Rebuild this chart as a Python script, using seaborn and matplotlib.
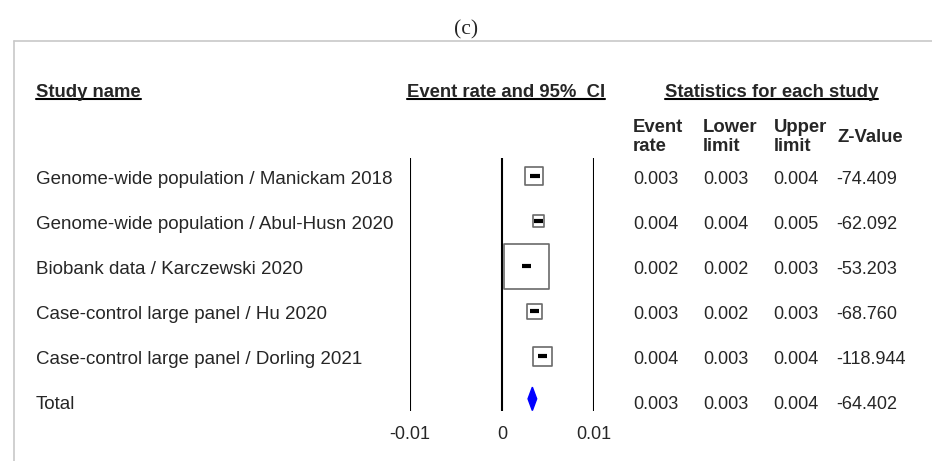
import matplotlib
matplotlib.use('Agg')
import matplotlib.pyplot as plt
from matplotlib.lines import Line2D
from matplotlib.patches import Polygon
import matplotlib.transforms as mtransforms
import numpy as np
import pandas as pd
import seaborn as sns

# data
studies = ['Genome-wide population / Manickam 2018',
           'Genome-wide population / Abul-Husn 2020',
           'Biobank data / Karczewski 2020',
           'Case-control large panel / Hu 2020',
           'Case-control large panel / Dorling 2021']
event_rate = [0.0035, 0.0040, 0.0027, 0.0035, 0.0044]
lower = [0.0030, 0.0035, 0.0022, 0.0030, 0.0039]
upper = [0.0041, 0.0045, 0.0032, 0.0040, 0.0049]
weight = [10.6, 4.0, 66.3, 7.4, 11.8]
total_rate, total_lower, total_upper = 0.0033, 0.00283, 0.00377

# table columns as printed
tab_rate = ['0.003', '0.004', '0.002', '0.003', '0.004', '0.003']
tab_lower = ['0.003', '0.004', '0.002', '0.002', '0.003', '0.003']
tab_upper = ['0.004', '0.005', '0.003', '0.003', '0.004', '0.004']
tab_z = ['-74.409', '-62.092', '-53.203', '-68.760', '-118.944', '-64.402']
xticks = [-0.01, 0, 0.01]
xtick_labels = ['-0.01', '0', '0.01']

df = pd.DataFrame({'study': studies, 'rate': event_rate, 'lower': lower,
                   'upper': upper, 'weight': weight, 'row': np.arange(len(studies))})

sns.set_style('white')
plt.rcParams['font.family'] = ['Liberation Sans', 'DejaVu Sans']

W, H = 932, 461
fig = plt.figure(figsize=(W / 100, H / 100), dpi=100)

def fx(px):
    return px / W

def fy(py):
    return 1 - py / H

# forest panel: x from 410px to 594px, y from 158px to 412px
ax = fig.add_axes([fx(410), fy(411), fx(594) - fx(410), (411 - 158) / H])
ax.set_xlim(-0.01, 0.01)
ax.set_ylim(5.22, -0.4)
for s in ax.spines.values():
    s.set_visible(False)
ax.set_yticks([])
ax.set_xticks(xticks)
ax.set_xticklabels(xtick_labels, fontsize=13)
ax.tick_params(axis='x', length=0, pad=11)
ax.patch.set_alpha(0)
for v in xticks:
    ax.axvline(v, color='black', lw=1.5, zorder=1)

smax = (45 * 0.72) ** 2
sns.scatterplot(data=df, x='rate', y='row', size='weight', sizes=(0, smax),
                size_norm=(0, max(weight)), marker='s', color='white',
                edgecolor='#6a6a6a', linewidth=1.2, legend=False, ax=ax, zorder=2)
ax.hlines(df['row'], df['lower'], df['upper'], color='black', lw=3, zorder=3)
ax.set_xlabel('')
ax.set_ylabel('')

trow = len(studies) - 0.05
h = 0.26
ax.add_patch(Polygon([(total_lower, trow), (total_rate, trow - h),
                      (total_upper, trow), (total_rate, trow + h)],
                     closed=True, color='#0000ff', zorder=3))

# row texts share the forest panel's row positions
tr = mtransforms.blended_transform_factory(fig.transFigure, ax.transData)
labels = studies + ['Total']
off = 0.07
for i, lab in enumerate(labels):
    fig.text(fx(36), i + off, lab, transform=tr, fontsize=13.5, va='center', ha='left')
    fig.text(fx(633), i + off, tab_rate[i], transform=tr, fontsize=13, va='center')
    fig.text(fx(703), i + off, tab_lower[i], transform=tr, fontsize=13, va='center')
    fig.text(fx(773), i + off, tab_upper[i], transform=tr, fontsize=13, va='center')
    fig.text(fx(836), i + off, tab_z[i], transform=tr, fontsize=13, va='center')

# column headers
for xp, lab in [(633, 'Event\nrate'), (703, 'Lower\nlimit'), (774, 'Upper\nlimit')]:
    fig.text(fx(xp), fy(137), lab, fontsize=13.3, weight='bold', va='center', linespacing=1.15)
fig.text(fx(838), fy(138), 'Z-Value', fontsize=13.3, weight='bold', va='center')

heads = [fig.text(fx(36), fy(97), 'Study name', fontsize=13.3, weight='bold', va='baseline'),
         fig.text(fx(407), fy(97), 'Event rate and 95%  CI', fontsize=13.3, weight='bold', va='baseline'),
         fig.text(fx(878), fy(97), 'Statistics for each study', fontsize=13.3, weight='bold',
                  va='baseline', ha='right')]

fig.text(0.5, fy(30), '(c)', fontsize=15.5, family=['Liberation Serif', 'DejaVu Serif'],
         ha='center', va='center')

# frame lines
fig.add_artist(Line2D([fx(14), 1], [fy(41), fy(41)], color='#c8c8c8', lw=1.2))
fig.add_artist(Line2D([fx(14), fx(14)], [fy(41), 0], color='#c8c8c8', lw=1.2))

# underline headers
fig.canvas.draw()
rend = fig.canvas.get_renderer()
for t in heads:
    bb = t.get_window_extent(rend)
    fig.add_artist(Line2D([bb.x0 / W, bb.x1 / W], [fy(99.5), fy(99.5)], color='black', lw=1.5))

fig.savefig('out.png', dpi=100)
